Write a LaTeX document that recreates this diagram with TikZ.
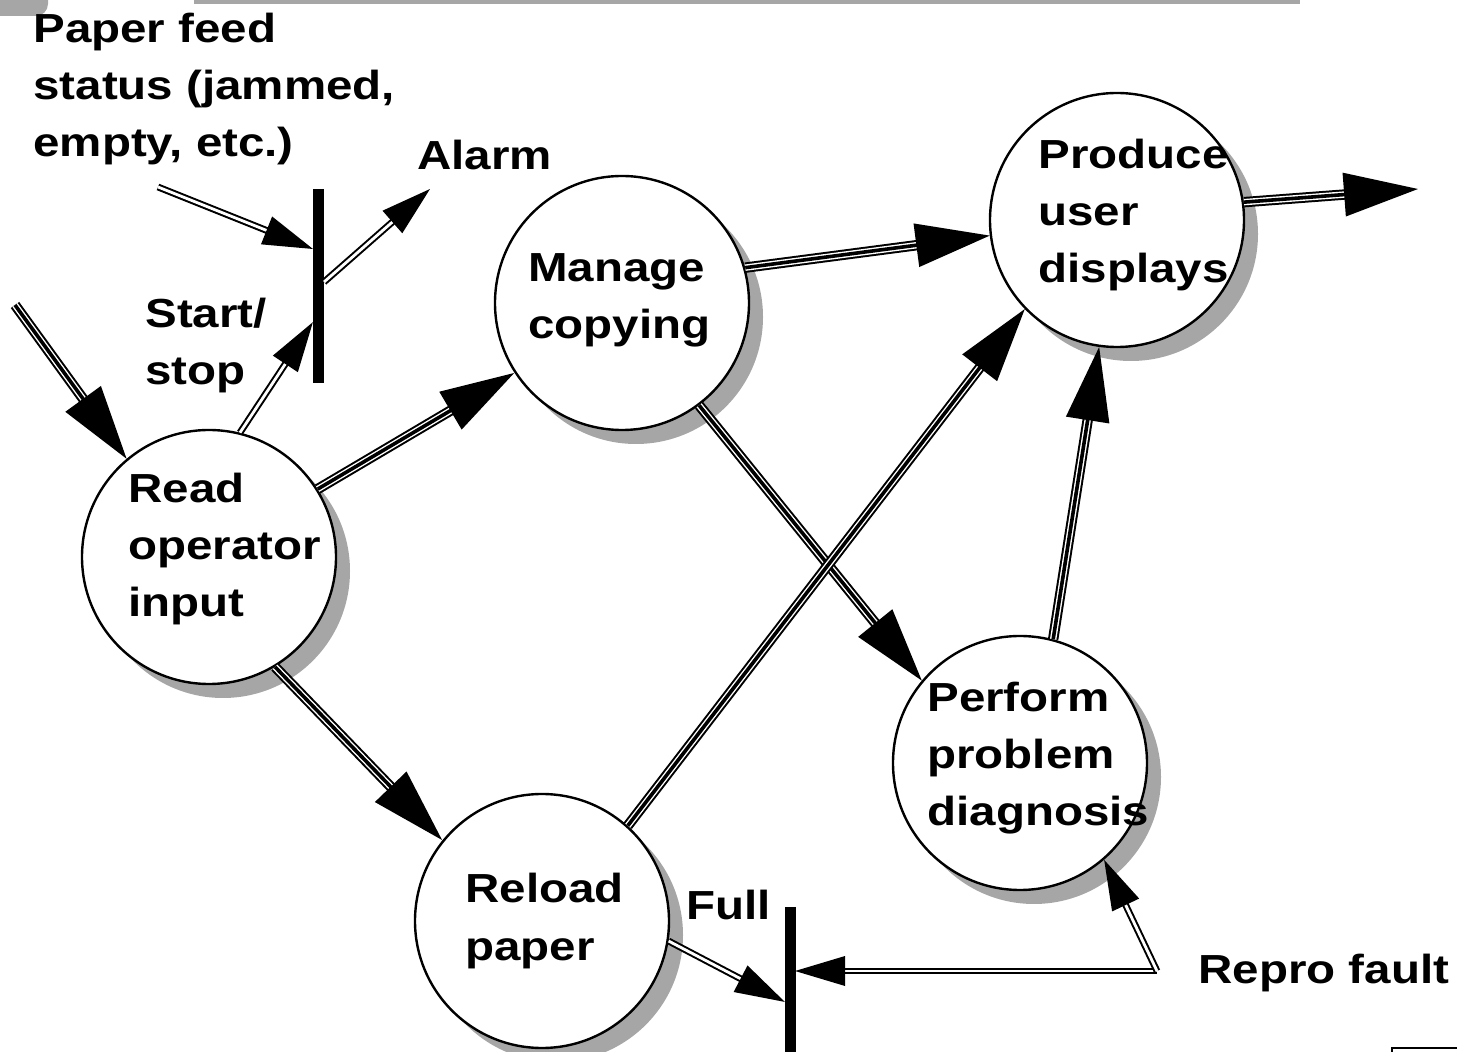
\documentclass[tikz,border=0pt]{standalone}
\usepackage{fontspec}
\usepackage{tikz}
\usetikzlibrary{shadows,decorations.markings}
\newfontfamily\lblfont[FakeStretch=1.17]{Liberation Sans}

\begin{document}
\begin{tikzpicture}[x=0.5pt,y=-0.5pt,
  proc/.style={circle,draw,line width=1.2pt,fill=white,minimum size=127pt,inner sep=0pt,
    drop shadow={shadow xshift=7pt,shadow yshift=-7pt,fill=black!35,opacity=1}},
  txt/.style={font=\lblfont\bfseries\fontsize{20.3pt}{28.5pt}\selectfont,align=left,inner sep=0pt,anchor=base west},
  bar/.style={line width=5.5pt},
  dtip/.style={preaction={decorate,decoration={markings,mark=at position 1 with {\fill (0pt,0pt) -- (-25pt,7.5pt) -- (-25pt,-7.5pt) -- cycle;}}}},
  ttip/.style={preaction={decorate,decoration={markings,mark=at position 1 with {\fill (0pt,0pt) -- (-37pt,11pt) -- (-37pt,-11pt) -- cycle;}}}},
  dbl/.style={preaction={draw,line width=1pt,double,double distance=1.4pt,shorten >=15pt},dtip},
  tri/.style={preaction={draw,line width=1pt,double,double distance=3.2pt,shorten >=22pt},
    preaction={draw,line width=1.8pt,shorten >=22pt},ttip}]
\useasboundingbox (0,0) rectangle (1457,1052);

% frame bits
\fill[black!35,rounded corners=6pt] (-20,-20) rectangle (48,16);
\fill[black!35] (194,0) rectangle (1300,4);
\draw[line width=.8pt] (1392,1048) rectangle (1480,1080);

% processes
\node[proc] (read) at (209,557) {};
\node[proc] (manage) at (622,303) {};
\node[proc] (produce) at (1117,220) {};
\node[proc] (perform) at (1020,763) {};
\node[proc] (reload) at (542,921) {};

\node[txt] (read-t) at (128,617) {Read\\operator\\input};
\node[txt] (manage-t) at (528,339) {Manage\\copying};
\node[txt] (produce-t) at (1038,283) {Produce\\user\\displays};
\node[txt] (perform-t) at (927,826) {Perform\\problem\\diagnosis};
\node[txt] (reload-t) at (465,960) {Reload\\paper};

% flow labels
\node[txt] (feed) at (33,157) {Paper feed\\status (jammed,\\empty, etc.)};
\node[txt] (alarm) at (417,170) {Alarm};
\node[txt] (start) at (145,385) {Start/\\stop};
\node[txt] (full) at (686,920) {Full};
\node[txt] (repro) at (1198,983) {Repro fault};

% bars
\coordinate (ss-top) at (318.5,189);
\coordinate (ss-bot) at (318.5,383);
\coordinate (fb-top) at (790,907);
\coordinate (fb-bot) at (790,1060);
\draw[bar] (ss-top) -- (ss-bot);
\draw[bar] (fb-top) -- (fb-bot);

\coordinate (feedin) at (15,305);
\coordinate (paperin) at (158,187);
\coordinate (ss-in) at (313,249);
\coordinate (ss-go) at (313,322);
\coordinate (ss-out) at (324,282);
\coordinate (alarm-pt) at (430,189);
\coordinate (out) at (1418,189);
\coordinate (fb-l) at (785,1002);
\coordinate (fb-r) at (795,971);
\coordinate (fork) at (1157,971);

% flows
\path[tri] (feedin) -- (read.130);
\path[tri] (read.32) -- (manage.213);
\path[dbl] (read.76) -- (ss-go);
\path[dbl] (paperin) -- (ss-in);
\path[dbl] (ss-out) -- (alarm-pt);
\path[tri] (manage.16) -- (produce.187);
\path[tri] (manage.-53) -- (perform.140);
\path[tri] (read.-59) -- (reload.141);
\path[tri] (reload.48) -- (produce.224);
\path[tri] (perform.75) -- (produce.262);
\path[tri] (produce.8) -- (out);
\path[dbl] (reload.-9) -- (fb-l);
\path[dbl] (fork) -- (fb-r);
\path[dbl] (fork) -- (perform.-49);
\end{tikzpicture}
\end{document}
